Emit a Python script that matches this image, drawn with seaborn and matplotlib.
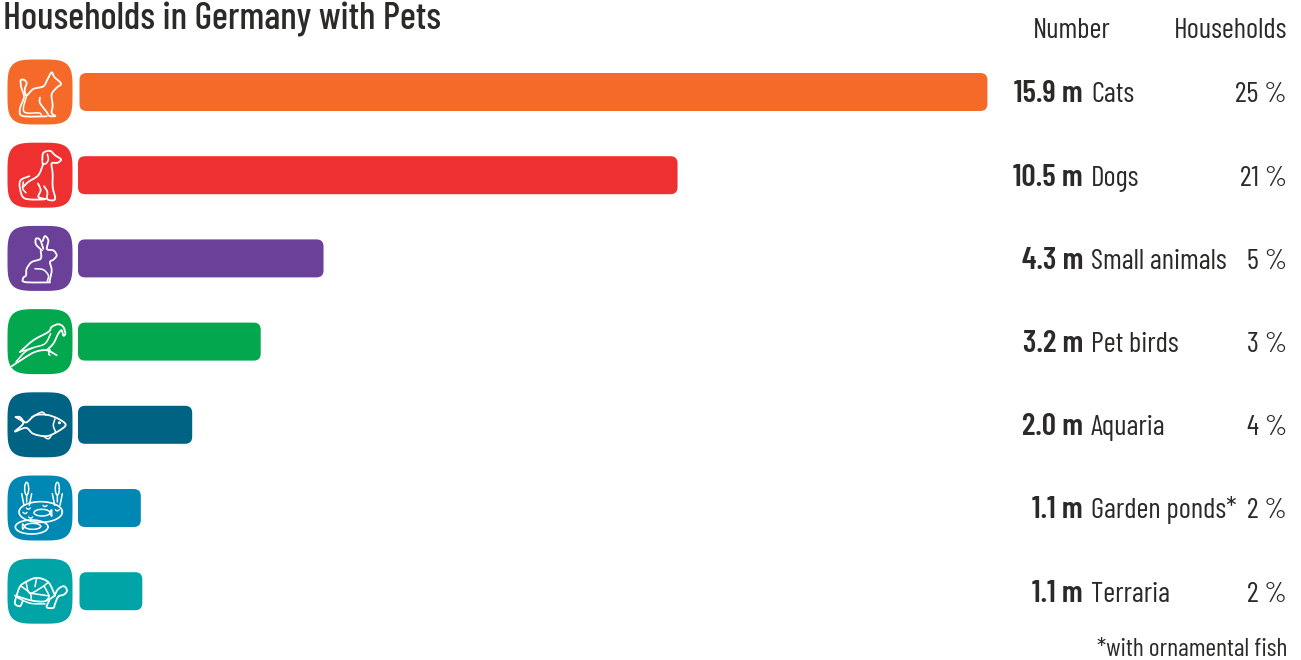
import numpy as np
import pandas as pd
import seaborn as sns
import matplotlib
matplotlib.use('Agg')
import matplotlib.pyplot as plt
from matplotlib.patches import FancyBboxPatch, PathPatch
from matplotlib.path import Path
from matplotlib import font_manager as fm
from matplotlib.transforms import blended_transform_factory

# Data
pets = ['Cats', 'Dogs', 'Small animals', 'Pet birds', 'Aquaria', 'Garden ponds*', 'Terraria']
millions = [15.9, 10.5, 4.3, 3.2, 2.0, 1.1, 1.1]
number_labels = ['15.9 m', '10.5 m', '4.3 m', '3.2 m', '2.0 m', '1.1 m', '1.1 m']
household_labels = ['25 %', '21 %', '5 %', '3 %', '4 %', '2 %', '2 %']
colors = ['#F56A28', '#EE3130', '#6A4098', '#03A84E', '#006384', '#0088B5', '#01A4A6']

W, H = 1301, 660
ROW0, ROW_STEP = 92, 83.2   # pixel centre of first row, row spacing
X0, X_SCALE = 78, 57.1      # pixel of zero, pixels per million

sns.set_theme(style='white')
names = {f.name for f in fm.fontManager.ttflist}
# a narrow face when there is one, otherwise Liberation Sans at a smaller size
narrow = 'Barlow Condensed' in names
plt.rcParams['font.family'] = ['Barlow Condensed', 'Liberation Sans', 'DejaVu Sans'] if narrow else ['Liberation Sans', 'DejaVu Sans']
scale = 1.0 if narrow else 0.78

df = pd.DataFrame({'pet': pets, 'millions': millions})

fig = plt.figure(figsize=(W / 100, H / 100), dpi=100)
ax = fig.add_axes([0, 0, 1, 1])
sns.barplot(data=df, y='pet', x='millions', hue='pet', palette=colors, legend=False,
            width=38 / ROW_STEP, saturation=1, ax=ax)
ax.set_xlim(-X0 / X_SCALE, (W - X0) / X_SCALE)
ax.set_ylim((H - ROW0) / ROW_STEP, -ROW0 / ROW_STEP)
ax.axis('off')

# Overlay in picture pixels for the rounded bars and the icons
ov = fig.add_axes([0, 0, 1, 1], facecolor='none')
ov.set_xlim(0, W)
ov.set_ylim(H, 0)
ov.axis('off')

# cats and terraria bars sit slightly to the right in the original
nudge = {0: 1.5, 6: 1.5}
for i, bar in enumerate(list(ax.patches)[:len(pets)]):
    x0, y0 = ov.transData.inverted().transform(ax.transData.transform((bar.get_x(), bar.get_y())))
    x1, y1 = ov.transData.inverted().transform(ax.transData.transform(
        (bar.get_x() + bar.get_width(), bar.get_y() + bar.get_height())))
    bar.set_visible(False)
    ov.add_patch(FancyBboxPatch((x0 + nudge.get(i, 0), y0), x1 - x0, y1 - y0,
                                boxstyle='round,pad=0,rounding_size=7',
                                fc=bar.get_facecolor(), ec='none'))


def tile(cy, color):
    t = np.linspace(0, 2 * np.pi, 200)
    n = 4.0
    x = 40 + 32.5 * np.sign(np.cos(t)) * np.abs(np.cos(t)) ** (2 / n)
    y = cy + 32.5 * np.sign(np.sin(t)) * np.abs(np.sin(t)) ** (2 / n)
    ov.fill(x, y, color=color, lw=0)


def stroke(pts, cy, mid, closed=False, lw=1.3):
    a = np.array([(p[0] / 3, cy + (p[1] - mid) / 3) for p in pts], float)
    if closed:
        a = np.vstack([a, a[0]])
    out = [tuple(a[0])]
    codes = [Path.MOVETO]
    for k in range(len(a) - 1):
        p0 = a[k - 1] if k > 0 else (a[-2] if closed else a[k])
        p1, p2 = a[k], a[k + 1]
        p3 = a[k + 2] if k + 2 < len(a) else (a[1] if closed else a[k + 1])
        out += [tuple(p1 + (p2 - p0) / 6), tuple(p2 - (p3 - p1) / 6), tuple(p2)]
        codes += [Path.CURVE4] * 3
    ov.add_patch(PathPatch(Path(out, codes), fc='none', ec='white', lw=lw,
                           capstyle='round', joinstyle='round'))


def oval(cx, cy0, rx, ry, cy, mid, lw=1.2):
    t = np.linspace(0, 2 * np.pi, 60)
    ov.plot((cx + rx * np.cos(t)) / 3, cy + (cy0 + ry * np.sin(t) - mid) / 3, color='white', lw=lw)


def cat(cy):
    m = 275
    stroke([(72, 238), (62, 240), (64, 262), (72, 290), (60, 325), (68, 347), (140, 348)], cy, m)
    stroke([(72, 238), (80, 248), (74, 268), (80, 285), (100, 266), (130, 258), (142, 238), (155, 216),
            (163, 230), (183, 250), (170, 262), (155, 282), (158, 315), (155, 338), (166, 347), (148, 347),
            (140, 335), (120, 308), (120, 292)], cy, m)
    stroke([(80, 285), (70, 325), (80, 338), (118, 338), (125, 348)], cy, m, lw=1.1)


def dog(cy):
    m = 525
    stroke([(127, 478), (130, 458), (150, 452), (165, 465), (183, 478), (172, 488), (155, 490), (158, 520),
            (158, 560), (165, 597), (142, 597), (142, 575), (132, 558)], cy, m)
    stroke([(127, 478), (128, 490), (138, 490), (145, 478), (142, 462)], cy, m, lw=1.1)
    stroke([(130, 490), (115, 525), (85, 545), (70, 560)], cy, m)
    stroke([(88, 528), (62, 540), (60, 565), (75, 595), (135, 597), (115, 590), (122, 570), (114, 550)], cy, m)
    stroke([(70, 545), (68, 565), (78, 578)], cy, m, lw=1.1)


def rabbit(cy):
    m = 114
    stroke([(126, 90), (108, 72), (108, 55), (120, 58), (130, 85)], cy, m)
    stroke([(128, 62), (135, 47), (145, 60), (141, 86), (160, 90), (170, 105), (160, 118), (150, 125),
            (155, 150), (148, 185)], cy, m)
    stroke([(122, 92), (122, 115), (95, 125), (80, 145), (78, 165), (70, 172), (75, 185), (150, 186)], cy, m)
    stroke([(105, 145), (130, 148), (145, 165), (142, 182)], cy, m, lw=1.1)


def bird(cy):
    m = 364
    stroke([(35, 438), (70, 415), (105, 395), (140, 390), (170, 405)], cy, m)
    stroke([(60, 395), (100, 360), (145, 335), (155, 320), (175, 312), (190, 320), (196, 340), (190, 346),
            (185, 330), (175, 340), (160, 370), (140, 390)], cy, m)
    stroke([(60, 395), (100, 382), (135, 370), (152, 340)], cy, m, lw=1.1)
    stroke([(48, 425), (75, 395), (100, 382)], cy, m, lw=1.1)
    stroke([(150, 388), (146, 400), (150, 405)], cy, m, lw=1.1)


def fish(cy):
    m = 613
    stroke([(47, 590), (70, 608), (45, 633), (78, 622), (100, 640), (140, 647), (175, 632), (197, 613),
            (175, 595), (140, 583), (105, 585), (78, 606), (60, 590), (47, 590)], cy, m)
    stroke([(95, 590), (125, 575), (137, 584)], cy, m, lw=1.1)
    stroke([(165, 595), (160, 615), (167, 635)], cy, m, lw=1.1)
    stroke([(130, 647), (145, 655), (155, 643)], cy, m, lw=1.1)
    oval(178, 607, 2, 2, cy, m)


def pond(cy):
    m = 203
    oval(122, 215, 65, 31, cy, m)
    oval(95, 260, 49, 21, cy, m)
    oval(126, 217, 24, 10, cy, m, lw=1.1)
    oval(98, 258, 24, 9, cy, m, lw=1.1)
    stroke([(150, 217), (155, 208), (155, 228), (150, 217)], cy, m, lw=1.0)
    stroke([(74, 258), (68, 251), (68, 267), (74, 258)], cy, m, lw=1.0)
    for x in (80, 172):
        oval(x, 145, 6, 19, cy, m, lw=1.1)
        stroke([(x, 165), (x, 185)], cy, m, lw=1.1)
        stroke([(x - 15, 160), (x - 8, 195)], cy, m, lw=1.1)
        stroke([(x + 15, 160), (x + 8, 195)], cy, m, lw=1.1)
    for rx, ry in ((85, 205), (75, 218), (135, 197), (172, 210), (92, 232)):
        stroke([(rx - 6, ry - 2), (rx, ry + 2), (rx + 6, ry - 2)], cy, m, lw=1.0)


def turtle(cy):
    m = 452
    stroke([(48, 470), (60, 438), (78, 424), (110, 412), (145, 425), (165, 465)], cy, m)
    stroke([(45, 465), (95, 480), (135, 482), (165, 465)], cy, m)
    stroke([(165, 462), (175, 445), (192, 437), (201, 450), (192, 462), (175, 468), (165, 490), (160, 502),
            (140, 500), (148, 480)], cy, m)
    stroke([(48, 470), (45, 490), (60, 497), (68, 482)], cy, m)
    stroke([(50, 470), (90, 488), (135, 490)], cy, m, lw=1.1)
    stroke([(65, 438), (90, 458), (94, 476)], cy, m, lw=1.1)
    stroke([(78, 424), (90, 458), (132, 436)], cy, m, lw=1.1)
    stroke([(110, 412), (105, 438)], cy, m, lw=1.1)
    stroke([(132, 436), (147, 466), (140, 478)], cy, m, lw=1.1)
    stroke([(132, 436), (145, 425)], cy, m, lw=1.1)
    stroke([(90, 458), (147, 466)], cy, m, lw=1.1)


icons = [cat, dog, rabbit, bird, fish, pond, turtle]
for i, draw in enumerate(icons):
    cy = ROW0 + ROW_STEP * i
    tile(cy, colors[i])
    draw(cy)

# Text columns: x in figure fraction, y in row units, on the baseline
tr = blended_transform_factory(ov.transAxes, ax.transData)
ink = '#2b2a29'
size = 20.8 * scale
base = 10.5 / ROW_STEP
for i in range(len(pets)):
    ax.text(1083 / W, i + base, number_labels[i], transform=tr, ha='right', va='baseline',
            fontsize=22.5 * scale, fontweight=600, color=ink)
    ax.text(1091 / W, i + base, pets[i], transform=tr, ha='left', va='baseline', fontsize=size, color=ink)
    ax.text(1287 / W, i + base, household_labels[i], transform=tr, ha='right', va='baseline', fontsize=size, color=ink)

fig.text(3 / W, 1 - 29.5 / H, 'Households in Germany with Pets', ha='left', va='baseline',
         fontsize=27.3 * scale, color=ink, fontweight=500)
fig.text(1072 / W, 1 - 38 / H, 'Number', ha='center', va='baseline', fontsize=size, color=ink)
fig.text(1287 / W, 1 - 38 / H, 'Households', ha='right', va='baseline', fontsize=size, color=ink)
fig.text(1287 / W, 1 - 656 / H, '*with ornamental fish', ha='right', va='baseline', fontsize=18.6 * scale, color=ink)

fig.savefig('out.png', dpi=100, facecolor='white')
